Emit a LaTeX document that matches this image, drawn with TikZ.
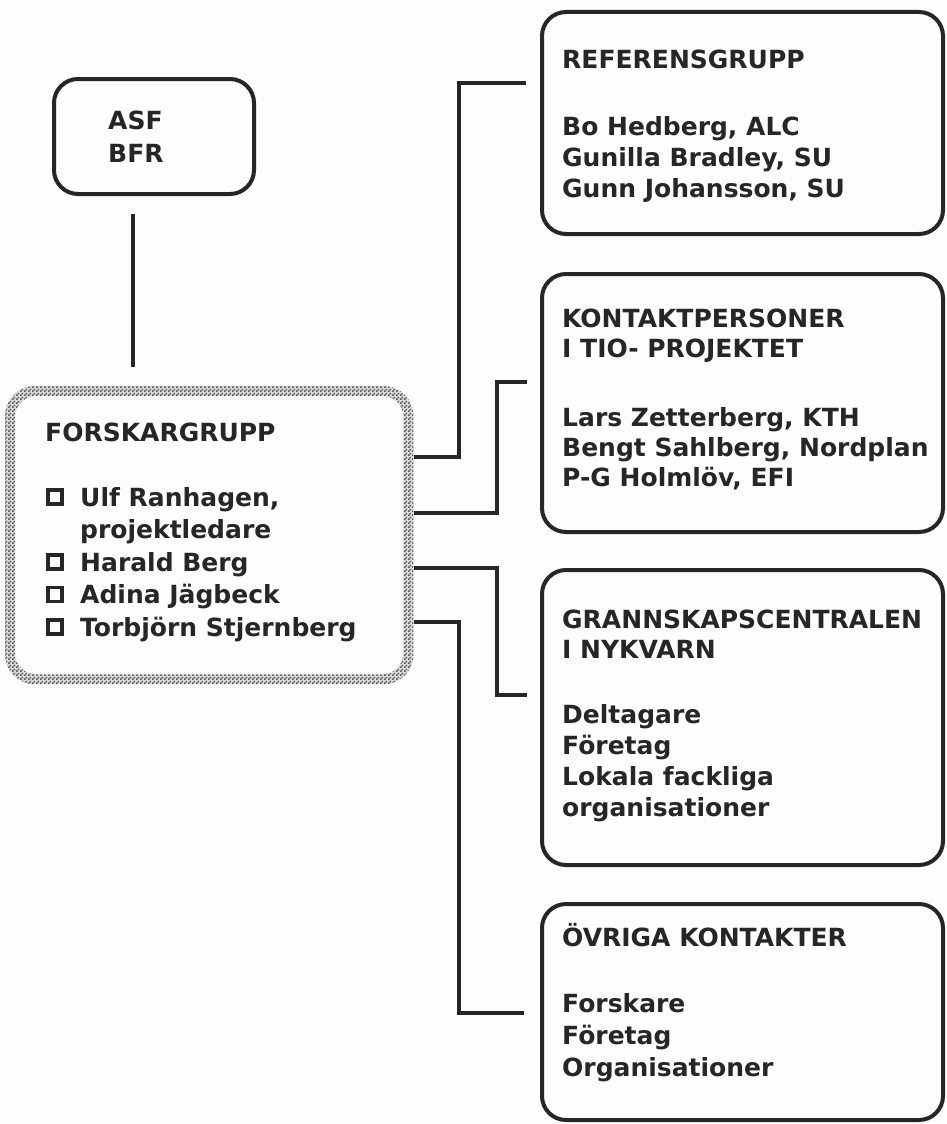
\documentclass[tikz,border=0pt]{standalone}
\usepackage{fontspec}
\setmainfont{DejaVu Sans}
\usetikzlibrary{patterns.meta}
\definecolor{ink}{RGB}{38,38,38}
\definecolor{paper}{RGB}{253,253,253}

% fine checker stipple for the research-group frame
\tikzdeclarepattern{
  name=stipple,
  type=uncolored,
  bottom left={(0pt,0pt)},
  top right={(4pt,4pt)},
  tile size={(4pt,4pt)},
  code={
    \pgfpathrectangle{\pgfpoint{0pt}{0pt}}{\pgfpoint{2pt}{2pt}}
    \pgfpathrectangle{\pgfpoint{2pt}{2pt}}{\pgfpoint{2pt}{2pt}}
    \pgfusepath{fill}
  }
}

\tikzset{
  rbox/.style={draw=ink, line width=4pt, rounded corners=24pt, anchor=north west,
    inner sep=0pt, minimum width=401pt},
  conn/.style={draw=ink, line width=4pt},
  txt/.style={anchor=west, inner sep=0pt, text height=18.2pt, text depth=0pt,
    font=\bfseries\fontsize{25}{30}\selectfont, text=ink},
  sq/.style={draw=ink, line width=3.2pt, minimum size=14pt, inner sep=0pt},
}

\begin{document}
\begin{tikzpicture}[x=1pt,y=-1pt]
\useasboundingbox (0,0) rectangle (946,1124);
\fill[paper] (0,0) rectangle (946,1124);

% funding bodies
\node[rbox, minimum width=200pt, minimum height=115pt] (asf) at (52,77) {};
\node[txt] (asf1) at (108,120) {ASF};
\node[txt] (asf2) at (108,153) {BFR};

% research group with stippled frame
\node[anchor=north west, inner sep=0pt, minimum width=408pt, minimum height=298pt] (fg) at (5,386) {};
\path[fill=gray!30, even odd rule] [rounded corners=30pt] (fg.north west) rectangle (fg.south east)
  {[rounded corners=21pt] ([shift={(10pt,-10pt)}]fg.north west) rectangle ([shift={(-10pt,10pt)}]fg.south east)};
\path[pattern=stipple, pattern color=black!65, even odd rule] [rounded corners=30pt] (fg.north west) rectangle (fg.south east)
  {[rounded corners=21pt] ([shift={(10pt,-10pt)}]fg.north west) rectangle ([shift={(-10pt,10pt)}]fg.south east)};

\node[txt] (fgt) at (45,432) {FORSKARGRUPP};
\node[sq] (s1) at (55,497) {};
\node[txt] (f1) at (80,497) {Ulf Ranhagen,};
\node[txt] (f1b) at (80,529.5) {projektledare};
\node[sq] (s2) at (55,562) {};
\node[txt] (f2) at (80,562) {Harald Berg};
\node[sq] (s3) at (55,594.5) {};
\node[txt] (f3) at (80,594.5) {Adina Jägbeck};
\node[sq] (s4) at (55,627) {};
\node[txt] (f4) at (80,627) {Torbjörn Stjernberg};

% right-hand column
\node[rbox, minimum height=222pt] (ref) at (540,10) {};
\node[txt] (r0) at (562,59) {REFERENSGRUPP};
\node[txt] (r1) at (562,126) {Bo Hedberg, ALC};
\node[txt] (r2) at (562,157) {Gunilla Bradley, SU};
\node[txt] (r3) at (562,188) {Gunn Johansson, SU};

\node[rbox, minimum height=258pt] (kon) at (540,272) {};
\node[txt] (k0) at (562,318) {KONTAKTPERSONER};
\node[txt] (k0b) at (562,348) {I TIO- PROJEKTET};
\node[txt] (k1) at (562,417.5) {Lars Zetterberg, KTH};
\node[txt] (k2) at (562,447.5) {Bengt Sahlberg, Nordplan};
\node[txt] (k3) at (562,477.5) {P-G Holmlöv, EFI};

\node[rbox, minimum height=295pt] (gra) at (540,568) {};
\node[txt] (g0) at (562,619) {GRANNSKAPSCENTRALEN};
\node[txt] (g0b) at (562,649) {I NYKVARN};
\node[txt] (g1) at (562,714) {Deltagare};
\node[txt] (g2) at (562,745) {Företag};
\node[txt] (g3) at (562,776) {Lokala fackliga};
\node[txt] (g4) at (562,807) {organisationer};

\node[rbox, minimum height=216pt] (ovr) at (540,902) {};
\node[txt] (o0) at (562,937) {ÖVRIGA KONTAKTER};
\node[txt] (o1) at (562,1003) {Forskare};
\node[txt] (o2) at (562,1035) {Företag};
\node[txt] (o3) at (562,1067) {Organisationer};

% connectors
\draw[conn, shorten <=18pt, shorten >=19pt] (asf.south -| 133,0) -- (fg.north -| 133,0);
\draw[conn, shorten <=1pt, shorten >=14pt] (fg.east |- 0,457) -| (459,83) -- (ref.west |- 0,83);
\draw[conn, shorten <=1pt, shorten >=13pt] (fg.east |- 0,513) -| (497,382) -- (kon.west |- 0,382);
\draw[conn, shorten <=1pt, shorten >=13pt] (fg.east |- 0,568) -| (497,695) -- (gra.west |- 0,695);
\draw[conn, shorten <=1pt, shorten >=16pt] (fg.east |- 0,622) -| (459,1013) -- (ovr.west |- 0,1013);
\end{tikzpicture}
\end{document}
